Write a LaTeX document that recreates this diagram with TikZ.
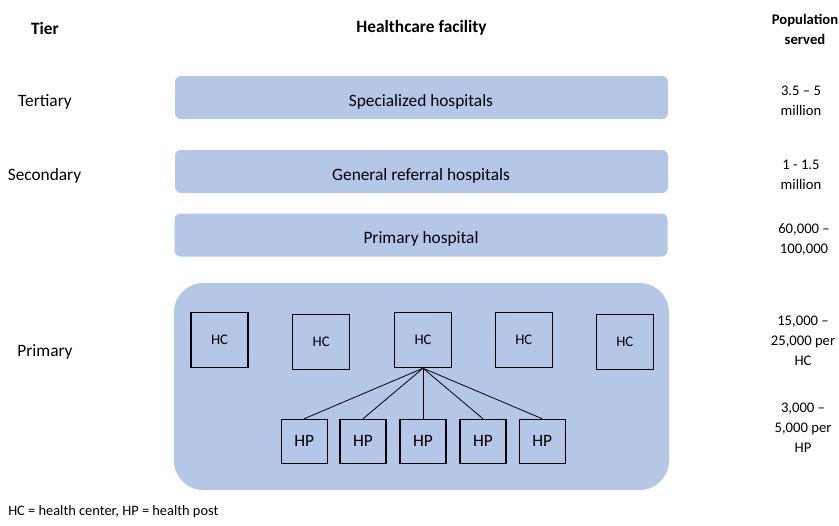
\documentclass[tikz,border=0pt]{standalone}
\usepackage{fontspec}
\setmainfont{Carlito}
\definecolor{barblue}{HTML}{B4C7E7}
\begin{document}
\begin{tikzpicture}[x=0.75pt,y=-0.75pt,
  every node/.style={font=\fontsize{11}{15}\selectfont, inner sep=0pt},
  big/.style={font=\fontsize{13}{16}\selectfont},
  bar/.style={fill=barblue, rounded corners=4.5pt, minimum width=369.75pt, minimum height=32.25pt},
  bigbox/.style={fill=barblue, rounded corners=22pt, minimum width=371.25pt, minimum height=155.25pt},
  hcbox/.style={draw=black, line width=0.8pt, minimum width=42.75pt, minimum height=41.25pt},
  hpbox/.style={draw=black, line width=0.8pt, minimum width=34.5pt, minimum height=33pt, font=\fontsize{13}{16}\selectfont},
  lbl/.style={align=center},
  hdr/.style={align=center, font=\fontsize{13}{16}\selectfont\bfseries},
  link/.style={draw=black, line width=0.6pt}]
\useasboundingbox (0,0) rectangle (839,525);
% headers
\node[hdr] (htier) at (45,28) {Tier};
\node[hdr] (hfac) at (421.5,28) {Healthcare facility};
\node[lbl, font=\fontsize{11}{15}\selectfont\bfseries] (hpop) at (805,29) {Population\\served};
% tiers
\node[lbl, big] (tert) at (45,102) {Tertiary};
\node[lbl, big] (sec) at (44.5,176) {Secondary};
\node[lbl, big] (prim) at (45,352) {Primary};
% bars
\node[bar] (spec) at (421.5,97.5) {};
\node[big] (spect) at (421,102) {Specialized hospitals};
\node[bar] (gen) at (421.5,171.5) {};
\node[big] (gent) at (421,176) {General referral hospitals};
\node[bar] (ph) at (421,235) {};
\node[big] (pht) at (421,239) {Primary hospital};
\node[bigbox] (pbox) at (421.5,386.5) {};
% HC boxes
\node[hcbox] (hc1) at (219.5,340.2) {HC};
\node[hcbox] (hc2) at (321.2,341.7) {HC};
\node[hcbox] (hc3) at (423,340.2) {HC};
\node[hcbox] (hc4) at (523.8,340.2) {HC};
\node[hcbox] (hc5) at (624.8,341.7) {HC};
% HP boxes
\node[hpbox] (hp1) at (304.2,441.3) {HP};
\node[hpbox] (hp2) at (363,441.3) {HP};
\node[hpbox] (hp3) at (423,441.3) {HP};
\node[hpbox] (hp4) at (483,441.3) {HP};
\node[hpbox] (hp5) at (542.3,441.3) {HP};
\foreach \i in {1,...,5} \draw[link] (hc3.south) -- (hp\i.north);
% population
\node[lbl] (p1) at (801,101) {3.5 -- 5\\million};
\node[lbl] (p2) at (801,175) {1 - 1.5\\million};
\node[lbl] (p3) at (804,239) {60,000 --\\100,000};
\node[lbl] (p4) at (803,341) {15,000 --\\25,000 per\\HC};
\node[lbl] (p5) at (803,428) {3,000 --\\5,000 per\\HP};
% footnote
\node[anchor=west, font=\fontsize{10.8}{13}\selectfont] (foot) at (8,512) {HC = health center, HP = health post};
\end{tikzpicture}
\end{document}
